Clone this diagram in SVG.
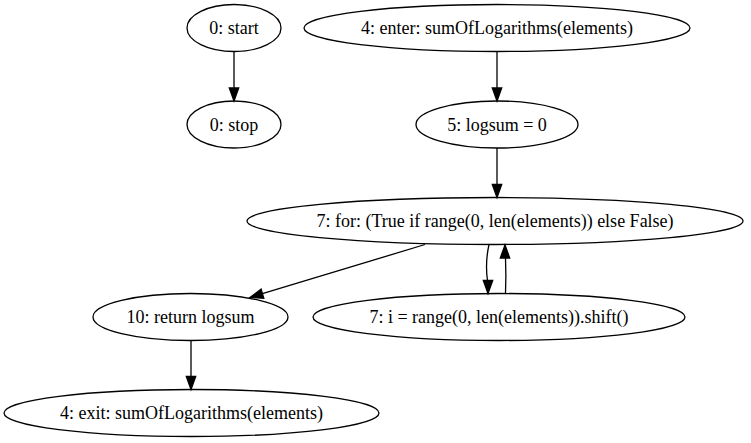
<svg xmlns="http://www.w3.org/2000/svg" width="751" height="443" viewBox="0 0 751 443">
<style>
.n ellipse{fill:none;stroke:#000;stroke-width:1.3}
text{font-family:'Liberation Serif','Times New Roman',Times,serif;font-size:18px;text-anchor:middle;fill:#000}
#edges path{fill:none;stroke:#000;stroke-width:1.3}
#edges polygon{fill:#000;stroke:#000;stroke-width:1.3}
</style>
<rect width="751" height="443" fill="#fff"/>
<g id="edges">
<path d="M234,51.5 L234,88"/><polygon points="234,101 229.3,88 238.7,88"/>
<path d="M497,51.5 L497,88"/><polygon points="497,101 492.3,88 501.7,88"/>
<path d="M497,148 L497,184.5"/><polygon points="497,197.5 492.3,184.5 501.7,184.5"/>
<path d="M425,244.5 L262.4,293.7"/><polygon points="250,297.5 263.8,298.2 261.1,289.2"/>
<path d="M489,244.5 C486,258 486,270 487.5,280.5"/><polygon points="488,293.5 483.3,280.5 492.7,280.5"/>
<path d="M505.5,293.5 C506,282 506,270 505.5,258"/><polygon points="505,245 500.3,258 509.7,258"/>
<path d="M191,340.5 L191,376.5"/><polygon points="191,389.5 186.3,376.5 195.7,376.5"/>
</g>
<g id="n0start" class="n" font-family="Liberation Serif, serif"><ellipse cx="234" cy="28" rx="47" ry="23.5"/><text x="234" y="34" font-family="Liberation Serif, serif">0: start</text></g>
<g id="n0stop" class="n"><ellipse cx="234" cy="124.5" rx="47" ry="23.5"/><text x="234" y="130.5" font-family="Liberation Serif, serif">0: stop</text></g>
<g id="n4enter" class="n"><ellipse cx="497" cy="28" rx="193" ry="23.5"/><text x="497" y="34" font-family="Liberation Serif, serif">4: enter: sumOfLogarithms(elements)</text></g>
<g id="n5logsum" class="n"><ellipse cx="497" cy="124.5" rx="81" ry="23.5"/><text x="497" y="130.5" font-family="Liberation Serif, serif">5: logsum = 0</text></g>
<g id="n7for" class="n"><ellipse cx="495" cy="221" rx="248" ry="23.5"/><text x="495" y="227" font-family="Liberation Serif, serif">7: for: (True if range(0, len(elements)) else False)</text></g>
<g id="n10return" class="n"><ellipse cx="190.5" cy="317" rx="97.5" ry="23.5"/><text x="190.5" y="323" font-family="Liberation Serif, serif">10: return logsum</text></g>
<g id="n7shift" class="n"><ellipse cx="499" cy="317" rx="186" ry="23.5"/><text x="499" y="323" font-family="Liberation Serif, serif">7: i = range(0, len(elements)).shift()</text></g>
<g id="n4exit" class="n"><ellipse cx="191.5" cy="413" rx="187.5" ry="23.5"/><text x="191.5" y="419" font-family="Liberation Serif, serif">4: exit: sumOfLogarithms(elements)</text></g>
</svg>
